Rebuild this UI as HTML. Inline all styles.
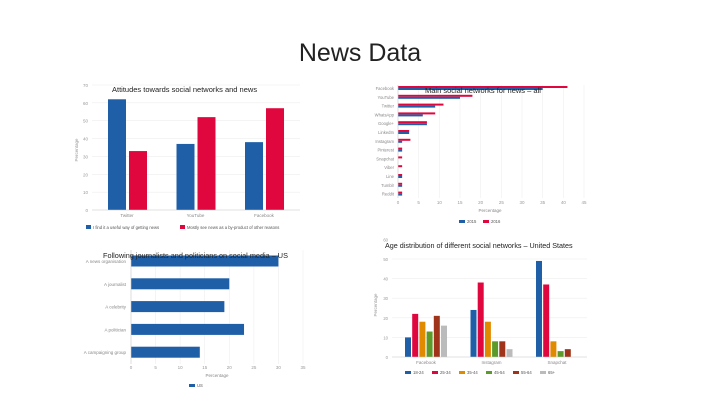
<!DOCTYPE html>
<html><head><meta charset="utf-8"><style>
body{margin:0;width:720px;height:405px;background:#fff;overflow:hidden;font-family:"Liberation Sans",sans-serif}
svg{position:absolute;left:0;top:0}
</style></head><body>
<svg id="s" width="720" height="405">
<text x="360" y="61" text-anchor="middle" font-size="25" fill="#222">News Data</text>
</svg>
<script>
const NS='http://www.w3.org/2000/svg';const S=document.getElementById('s');
function mk(t,a,txt){const e=document.createElementNS(NS,t);for(const k in a)e.setAttribute(k,a[k]);if(txt!==undefined)e.textContent=txt;S.appendChild(e);return e;}
const BLUE='#1f5fa8',RED='#e0073f';

// Chart 1
const c1Cats=['Twitter','YouTube','Facebook'];
const c1Useful=[62,37,38];
const c1Worry=[33,52,57];
const c1Ticks=[0,10,20,30,40,50,60,70];
const y1=v=>210-v*125/70;
c1Ticks.forEach(t=>{let l=mk('line',{x1:92,x2:300,y1:y1(t),y2:y1(t),stroke:'#eee','stroke-width':0.6});

let tx=mk('text',{x:88,y:y1(t)+2,'font-size':4.5,fill:'#999','text-anchor':'end'},String(t));
});
c1Cats.forEach((c,i)=>{const gx=108+i*68.5;
let b=mk('rect',{x:gx,y:y1(c1Useful[i]),width:18,height:210-y1(c1Useful[i]),fill:BLUE});

let r=mk('rect',{x:gx+21,y:y1(c1Worry[i]),width:18,height:210-y1(c1Worry[i]),fill:RED});

let t=mk('text',{x:gx+19,y:217,'font-size':4.5,fill:'#888','text-anchor':'middle'},c);
});
mk('line',{x1:92,x2:300,y1:210,y2:210,stroke:'#ccc','stroke-width':0.6});
mk('text',{x:112,y:92,'font-size':7.5,fill:'#222'},'Attitudes towards social networks and news');
mk('text',{x:78,y:150,'font-size':4.5,fill:'#999',transform:'rotate(-90 78 150)','text-anchor':'middle'},'Percentage');
mk('rect',{x:86,y:225,width:5,height:4,fill:BLUE});
mk('text',{x:93,y:229,'font-size':4.2,fill:'#555'},'I find it a useful way of getting news');
mk('rect',{x:180,y:225,width:5,height:4,fill:RED});
mk('text',{x:187,y:229,'font-size':4.2,fill:'#555'},'Mostly see news as a by-product of other reasons');

// Chart 2
const c2Cats=['Facebook','YouTube','Twitter','WhatsApp','Google+','LinkedIn','Instagram','Pinterest','Snapchat','Viber','Line','Tumblr','Reddit'];
const c2Y2015=[35,15,9,6,7,2.7,1,1,0,0,1,1,1];
const c2Y2016=[41,18,11,9,7,2.7,3,1,1,1,1,1,1];
const c2Ticks=[0,5,10,15,20,25,30,35,40,45];
const x2=v=>398+v*186/45;
c2Ticks.forEach(t=>{let l=mk('line',{x1:x2(t),x2:x2(t),y1:85,y2:198,stroke:'#eee','stroke-width':0.6});

let tx=mk('text',{x:x2(t),y:204,'font-size':4.5,fill:'#999','text-anchor':'middle'},String(t));
});
c2Cats.forEach((c,i)=>{const cy=88+i*8.8;
let r=mk('rect',{x:398,y:cy-2,width:x2(c2Y2016[i])-398,height:2,fill:RED});

let b=mk('rect',{x:398,y:cy,width:x2(c2Y2015[i])-398,height:2,fill:BLUE});

let t=mk('text',{x:394,y:cy+2,'font-size':4.2,fill:'#888','text-anchor':'end'},c);
});
mk('line',{x1:398,x2:398,y1:85,y2:198,stroke:'#ccc','stroke-width':0.6});
mk('text',{x:425,y:93,'font-size':7.5,fill:'#222'},'Main social networks for news – all');
mk('text',{x:490,y:212,'font-size':4.5,fill:'#888','text-anchor':'middle'},'Percentage');
mk('rect',{x:459,y:220,width:6,height:3,fill:BLUE});mk('text',{x:467,y:223,'font-size':4.2,fill:'#555'},'2015');
mk('rect',{x:483,y:220,width:6,height:3,fill:RED});mk('text',{x:491,y:223,'font-size':4.2,fill:'#555'},'2016');

// Chart 3
const c3Cats=['A news organisation','A journalist','A celebrity','A politician','A campaigning group'];
const c3US=[30,20,19,23,14];
const c3Ticks=[0,5,10,15,20,25,30,35];
const x3=v=>131+v*172/35;
c3Ticks.forEach(t=>{let l=mk('line',{x1:x3(t),x2:x3(t),y1:250,y2:364,stroke:'#eee','stroke-width':0.6});

let tx=mk('text',{x:x3(t),y:369,'font-size':4.5,fill:'#999','text-anchor':'middle'},String(t));
});
c3Cats.forEach((c,i)=>{const cy=261+i*22.8;
let b=mk('rect',{x:131,y:cy-5.5,width:x3(c3US[i])-131,height:11,fill:BLUE});

let t=mk('text',{x:126,y:cy+2,'font-size':4.5,fill:'#888','text-anchor':'end'},c);
});
mk('line',{x1:131,x2:131,y1:250,y2:364,stroke:'#ccc','stroke-width':0.6});
mk('text',{x:103,y:258,'font-size':7.3,fill:'#222'},'Following journalists and politicians on social media – US');
mk('text',{x:217,y:377,'font-size':4.5,fill:'#888','text-anchor':'middle'},'Percentage');
mk('rect',{x:189,y:384,width:6,height:3,fill:BLUE});mk('text',{x:197,y:387,'font-size':4.2,fill:'#555'},'US');

// Chart 4
const c4Cats=['Facebook','Instagram','Snapchat'];
const c4Series=['18-24','25-34','35-44','45-54','55-64','65+'];
const c4Colors=['#1f5fa8','#e0073f','#e08a00','#5c9a2a','#a0341a','#bbbbbb'];
const c4Vals=[[10,24,49],[22,38,37],[18,18,8],[13,8,3],[21,8,4],[16,4,0]];
const c4Ticks=[0,10,20,30,40,50,60];
const y4=v=>357-v*98/50;
c4Ticks.forEach(t=>{if(t<60){let l=mk('line',{x1:392,x2:587,y1:y4(t),y2:y4(t),stroke:'#eee','stroke-width':0.6});
}
let tx=mk('text',{x:388,y:y4(t)+2,'font-size':4.2,fill:'#999','text-anchor':'end'},String(t));
});
c4Cats.forEach((c,gi)=>{const gx=405+gi*65.5;
c4Series.forEach((s,si)=>{const v=c4Vals[si][gi];
let b=mk('rect',{x:gx+si*7.2,y:y4(v),width:6,height:357-y4(v),fill:c4Colors[si]});
});
let t=mk('text',{x:gx+21,y:364,'font-size':4.5,fill:'#888','text-anchor':'middle'},c);
});
mk('line',{x1:392,x2:587,y1:357,y2:357,stroke:'#ccc','stroke-width':0.6});
mk('text',{x:385,y:248,'font-size':7.2,fill:'#222'},'Age distribution of different social networks – United States');
mk('text',{x:377,y:305,'font-size':4.5,fill:'#999',transform:'rotate(-90 377 305)','text-anchor':'middle'},'Percentage');
c4Series.forEach((s,i)=>{const lx=405+i*27;
let r=mk('rect',{x:lx,y:371,width:6,height:3,fill:c4Colors[i]});

let t=mk('text',{x:lx+8,y:374,'font-size':4.2,fill:'#555'},s);
});
</script>
</body></html>
